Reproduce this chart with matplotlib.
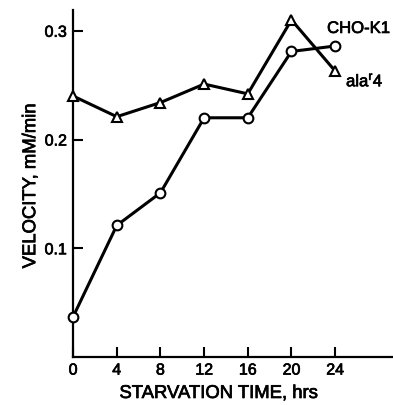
import matplotlib

matplotlib.use("Agg")

import matplotlib.pyplot as plt
import matplotlib.patheffects as pe

hours = [0, 4, 8, 12, 16, 20, 24]
cho_k1 = [0.037, 0.121, 0.151, 0.220, 0.220, 0.281, 0.286]
ala_r4 = [0.240, 0.221, 0.234, 0.251, 0.242, 0.310, 0.263]
x_ticks = [0, 4, 8, 12, 16, 20, 24]
y_ticks = [0.1, 0.2, 0.3]

plt.rcParams["font.family"] = ["Liberation Sans", "DejaVu Sans"]
plt.rcParams["mathtext.fontset"] = "custom"
plt.rcParams["mathtext.rm"] = "Liberation Sans"
thick = [pe.withStroke(linewidth=0.5, foreground="black")]

fig = plt.figure(figsize=(3.93, 4.05), dpi=100)
ax = fig.add_axes([0.186, 0.1185, 0.814, 0.8565])

ax.plot(hours, cho_k1, color="black", linewidth=2.2, marker="o", markersize=7,
        markerfacecolor="white", markeredgecolor="black", markeredgewidth=1.5,
        clip_on=False, zorder=5)
ax.plot(hours, ala_r4, color="black", linewidth=2.2, marker="^", markersize=7,
        markerfacecolor="white", markeredgecolor="black", markeredgewidth=1.5,
        clip_on=False, zorder=5)

ax.text(23.26, 0.298, "CHO-K1", fontsize=12, va="baseline", ha="left", path_effects=thick)
ax.text(25.0, 0.249, r"ala$^{\mathrm{r}}$4", fontsize=12, va="baseline", ha="left", path_effects=thick)

ax.set_xlim(0, 29.3)
ax.set_ylim(0.0, 0.319)
ax.set_xticks(x_ticks)
ax.set_yticks(y_ticks)
ax.set_yticklabels([f"{v:.1f}" for v in y_ticks])
ax.spines["top"].set_visible(False)
ax.spines["right"].set_visible(False)
ax.spines["left"].set_linewidth(1.6)
ax.spines["bottom"].set_linewidth(1.6)
ax.tick_params(axis="both", direction="in", length=7.5, width=1.5, labelsize=11.5)
ax.tick_params(axis="x", pad=4)
ax.tick_params(axis="y", pad=4.5)
for lab in ax.get_xticklabels() + ax.get_yticklabels():
    lab.set_path_effects(thick)

ax.set_xlabel("STARVATION TIME, hrs", fontsize=13.3, path_effects=thick)
ax.set_ylabel("VELOCITY, mM/min", fontsize=13.3, path_effects=thick)
ax.xaxis.set_label_coords(0.4547, -0.0807)
ax.yaxis.set_label_coords(-0.106, 0.493)

fig.savefig("out.png", dpi=100)
